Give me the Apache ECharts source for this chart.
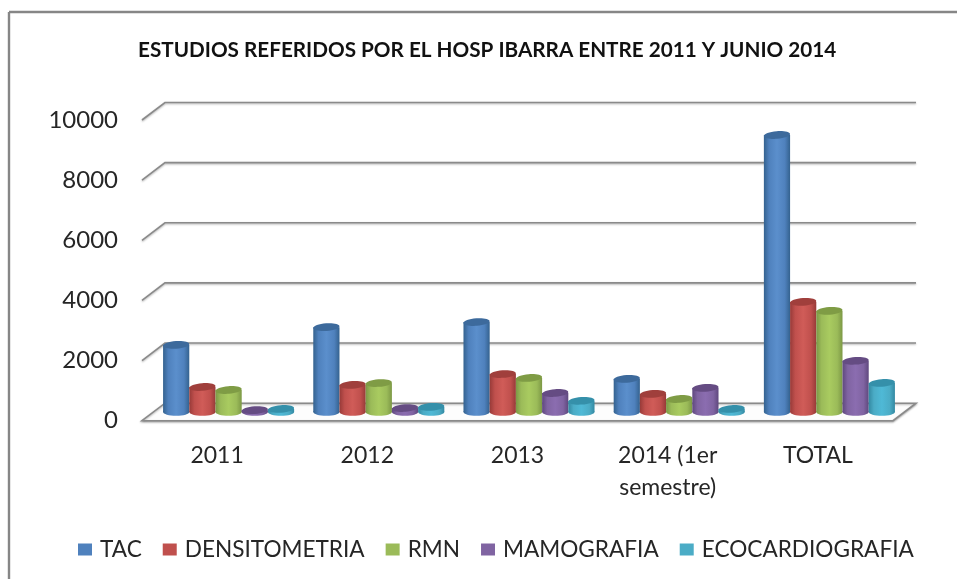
<!DOCTYPE html>
<html>
<head>
<meta charset="utf-8">
<style>
  html, body { margin: 0; padding: 0; background: #fff; }
  #main { width: 957px; height: 579px; }
</style>
<script src="https://cdn.jsdelivr.net/npm/echarts@6/dist/echarts.min.js"></script>
</head>
<body>
<div id="main"></div>
<script>
const categories = ['2011', '2012', '2013', '2014 (1er\nsemestre)', 'TOTAL']
const yTicks = [0, 2000, 4000, 6000, 8000, 10000]
const tac = [2230, 2820, 2990, 1100, 9210]
const densitometria = [830, 900, 1260, 600, 3660]
const rmn = [730, 960, 1130, 430, 3360]
const mamografia = [60, 130, 630, 800, 1700]
const ecocardiografia = [100, 170, 370, 100, 965]

const FONT = 'Lato'
const TEXT = '#262626'
const GRID_LINE = '#8a8a8a'
// profundidad del "3D" falso, en px
const DEPTH_X = 23
const DEPTH_Y = 17.5
const BAR_SHARE = 0.1745

const palette = [
  { name: 'TAC', data: tac, base: '#4f81bd', dark: '#34628f', light: '#5b8fcc', top: '#3d6a9c' },
  { name: 'DENSITOMETRIA', data: densitometria, base: '#c0504d', dark: '#973a38', light: '#d05c58', top: '#a03f3c' },
  { name: 'RMN', data: rmn, base: '#9bbb59', dark: '#7c9845', light: '#a9cb60', top: '#7f9c45' },
  { name: 'MAMOGRAFIA', data: mamografia, base: '#8064a2', dark: '#5f487e', light: '#8b6db0', top: '#654c83' },
  { name: 'ECOCARDIOGRAFIA', data: ecocardiografia, base: '#4bacc6', dark: '#3389a2', light: '#4fb9d6', top: '#3590aa' },
]

function wallsItem(params, api) {
  const g = params.coordSys
  const y = api.coord([0, api.value(1)])[1]
  const x0 = g.x
  const x1 = g.x + g.width
  const children = []
  const shadow = { shadowColor: 'rgba(0,0,0,0.3)', shadowBlur: 2, shadowOffsetY: 1 }
  if (api.value(1) === 0) {
    children.push({
      type: 'polygon',
      shape: { points: [[x0, y], [x0 + DEPTH_X, y - DEPTH_Y], [x1 + DEPTH_X, y - DEPTH_Y], [x1, y]] },
      style: { fill: '#fdfdfd', stroke: GRID_LINE, lineWidth: 1.6, ...shadow },
    })
  } else {
    children.push({
      type: 'polyline',
      shape: { points: [[x0, y], [x0 + DEPTH_X, y - DEPTH_Y], [x1 + DEPTH_X, y - DEPTH_Y]] },
      style: { fill: null, stroke: GRID_LINE, lineWidth: 1.6, ...shadow },
    })
  }
  return { type: 'group', children }
}

function cylinderItem(seriesIdx) {
  const c = palette[seriesIdx]
  return function (params, api) {
    const band = api.size([1, 0])[0]
    const w = band * BAR_SHARE
    const p = api.coord([api.value(0), api.value(1)])
    const zero = api.coord([api.value(0), 0])
    const left = p[0] + DEPTH_X / 2 + (seriesIdx - 2.5) * w
    const cx = left + w / 2
    const topY = p[1] - DEPTH_Y / 2
    const botY = zero[1] - DEPTH_Y / 2
    const fill = new echarts.graphic.LinearGradient(0, 0, 1, 0, [
      { offset: 0, color: c.dark },
      { offset: 0.2, color: c.base },
      { offset: 0.5, color: c.light },
      { offset: 0.8, color: c.base },
      { offset: 1, color: c.dark },
    ])
    return {
      type: 'group',
      children: [
        { type: 'ellipse', shape: { cx, cy: botY, rx: w / 2, ry: 3.8 }, style: { fill } },
        { type: 'rect', shape: { x: left, y: topY, width: w, height: Math.max(botY - topY, 0) }, style: { fill } },
        {
          type: 'ellipse',
          shape: { cx, cy: topY, rx: w / 2, ry: 3.8 },
          originX: cx,
          originY: topY,
          rotation: 0.07,
          style: { fill: c.top },
        },
      ],
    }
  }
}

const series = [{
  name: 'paredes',
  type: 'custom',
  silent: true,
  clip: false,
  z: 1,
  renderItem: wallsItem,
  encode: { x: 0, y: 1 },
  data: yTicks.map(t => [0, t]),
}]
palette.forEach((c, i) => {
  series.push({
    name: c.name,
    type: 'custom',
    clip: false,
    z: 2,
    itemStyle: { color: c.base },
    renderItem: cylinderItem(i),
    encode: { x: 0, y: 1 },
    data: c.data.map((v, k) => [k, v]),
  })
})

const chart = echarts.init(document.getElementById('main'))
chart.setOption({
  animation: false,
  backgroundColor: '#fff',
  textStyle: { fontFamily: FONT },
  title: {
    text: 'ESTUDIOS REFERIDOS POR EL HOSP IBARRA ENTRE 2011 Y JUNIO 2014',
    left: 133,
    top: 35,
    textStyle: { fontFamily: FONT, fontSize: 20.7, fontWeight: 'bold', color: '#111' },
  },
  legend: {
    data: palette.map(c => c.name),
    left: 73,
    top: 533,
    itemWidth: 14,
    itemHeight: 12,
    itemGap: 21,
    icon: 'rect',
    textStyle: { fontFamily: FONT, fontSize: 22.6, color: TEXT, padding: [0, 0, 0, 3] },
  },
  grid: { left: 142, top: 120, width: 751, height: 300.7 },
  xAxis: {
    type: 'category',
    data: categories,
    axisLine: { show: false },
    axisTick: { show: false },
    axisLabel: { fontFamily: FONT, fontSize: 23, color: TEXT, margin: 19, lineHeight: 32, interval: 0 },
  },
  yAxis: {
    type: 'value',
    min: 0,
    max: 10000,
    interval: 2000,
    axisLine: { show: false },
    axisTick: { show: false },
    splitLine: { show: false },
    axisLabel: {
      fontFamily: FONT,
      fontSize: 24,
      color: TEXT,
      margin: 24,
      padding: [8, 0, 0, 0],
      formatter: value => String(value),
    },
  },
  series,
  graphic: [
    { type: 'line', z: 10, shape: { x1: 9, y1: 12, x2: 957, y2: 12 }, style: { stroke: '#868686', lineWidth: 2.4 } },
    { type: 'line', z: 10, shape: { x1: 9, y1: 12, x2: 9, y2: 579 }, style: { stroke: '#868686', lineWidth: 2.4 } },
  ],
})
</script>
</body>
</html>
